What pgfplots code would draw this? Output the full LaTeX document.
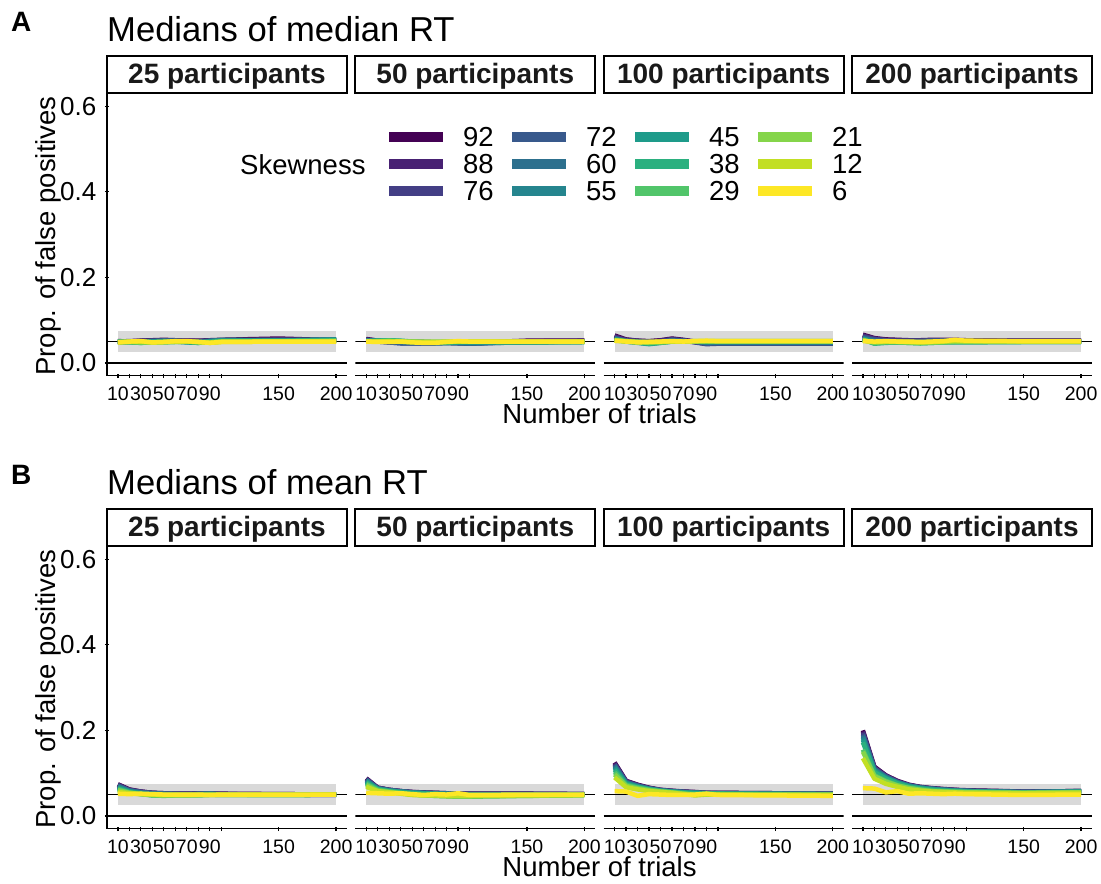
\documentclass[border=0pt]{standalone}
\usepackage{pgfplots}
\pgfplotsset{compat=1.18}
\usepackage{pgfplotstable}
\usepackage{fontspec}
\setmainfont{Liberation Sans}

\newcommand\fs[1]{\fontsize{#1}{#1}\selectfont}

% viridis palette, one colour per skewness level
\definecolor{v92}{HTML}{440154}
\definecolor{v88}{HTML}{482173}
\definecolor{v76}{HTML}{433E85}
\definecolor{v72}{HTML}{38598C}
\definecolor{v60}{HTML}{2D708E}
\definecolor{v55}{HTML}{25858E}
\definecolor{v45}{HTML}{1E9B8A}
\definecolor{v38}{HTML}{2BB07F}
\definecolor{v29}{HTML}{51C56A}
\definecolor{v21}{HTML}{85D54A}
\definecolor{v12}{HTML}{C2DF23}
\definecolor{v6}{HTML}{FDE725}
\definecolor{bandgrey}{HTML}{D9D9D9}

% Each table: one row per skewness level, one column per number of trials
% ---------- A: medians of median RT ----------
\pgfplotstableread{
s  10    20    30    40    50    60    70    80    90    100   150   200
92 0.051 0.050 0.052 0.053 0.054 0.053 0.052 0.052 0.053 0.054 0.057 0.053
88 0.050 0.051 0.052 0.052 0.053 0.053 0.052 0.051 0.052 0.053 0.055 0.053
76 0.050 0.050 0.051 0.052 0.052 0.052 0.051 0.051 0.052 0.053 0.054 0.053
72 0.049 0.050 0.051 0.051 0.052 0.052 0.051 0.050 0.052 0.053 0.053 0.054
60 0.050 0.049 0.050 0.051 0.052 0.051 0.050 0.049 0.051 0.054 0.053 0.055
55 0.049 0.049 0.050 0.050 0.051 0.051 0.049 0.048 0.051 0.053 0.052 0.055
45 0.048 0.049 0.049 0.050 0.050 0.050 0.048 0.047 0.050 0.052 0.052 0.054
38 0.049 0.048 0.047 0.049 0.049 0.050 0.049 0.047 0.049 0.051 0.051 0.053
29 0.050 0.049 0.047 0.048 0.048 0.049 0.050 0.048 0.048 0.050 0.051 0.052
21 0.049 0.050 0.048 0.048 0.049 0.049 0.050 0.049 0.048 0.050 0.050 0.051
12 0.048 0.049 0.050 0.048 0.049 0.050 0.050 0.049 0.047 0.049 0.050 0.050
6  0.048 0.050 0.051 0.048 0.049 0.051 0.051 0.049 0.047 0.049 0.050 0.050
}\rawAa
\pgfplotstableread{
s  10    20    30    40    50    60    70    80    90    100   150   200
92 0.056 0.052 0.051 0.050 0.049 0.049 0.048 0.048 0.048 0.047 0.052 0.052
88 0.055 0.052 0.050 0.049 0.048 0.048 0.047 0.047 0.047 0.046 0.051 0.052
76 0.054 0.050 0.048 0.046 0.046 0.046 0.046 0.047 0.046 0.045 0.050 0.051
72 0.053 0.050 0.048 0.046 0.046 0.046 0.046 0.047 0.046 0.045 0.049 0.050
60 0.052 0.051 0.050 0.048 0.047 0.047 0.047 0.047 0.047 0.046 0.048 0.050
55 0.052 0.052 0.052 0.050 0.048 0.048 0.047 0.047 0.047 0.047 0.048 0.049
45 0.051 0.052 0.053 0.051 0.049 0.048 0.047 0.047 0.048 0.048 0.048 0.049
38 0.051 0.052 0.053 0.052 0.050 0.049 0.048 0.048 0.049 0.049 0.049 0.049
29 0.050 0.051 0.052 0.051 0.050 0.049 0.049 0.049 0.050 0.050 0.049 0.049
21 0.050 0.050 0.051 0.050 0.050 0.049 0.049 0.049 0.050 0.050 0.049 0.049
12 0.050 0.050 0.050 0.050 0.049 0.049 0.049 0.050 0.050 0.050 0.050 0.050
6  0.050 0.049 0.049 0.050 0.048 0.047 0.047 0.049 0.051 0.050 0.050 0.050
}\rawAb
\pgfplotstableread{
s  10    20    30    40    50    60    70    80    90    100   150   200
92 0.064 0.055 0.052 0.051 0.053 0.057 0.054 0.050 0.046 0.046 0.046 0.046
88 0.062 0.054 0.052 0.050 0.052 0.056 0.053 0.049 0.045 0.046 0.046 0.046
76 0.060 0.053 0.051 0.050 0.051 0.055 0.052 0.048 0.044 0.045 0.046 0.046
72 0.058 0.052 0.050 0.049 0.050 0.054 0.052 0.049 0.045 0.046 0.046 0.046
60 0.057 0.051 0.049 0.047 0.049 0.052 0.051 0.050 0.047 0.047 0.047 0.047
55 0.056 0.050 0.048 0.045 0.048 0.051 0.051 0.050 0.048 0.048 0.048 0.048
45 0.055 0.050 0.047 0.044 0.047 0.050 0.050 0.050 0.049 0.049 0.049 0.049
38 0.054 0.050 0.048 0.045 0.047 0.050 0.050 0.050 0.050 0.050 0.050 0.050
29 0.053 0.050 0.049 0.047 0.048 0.050 0.050 0.050 0.050 0.050 0.050 0.050
21 0.053 0.051 0.049 0.048 0.049 0.050 0.050 0.051 0.051 0.051 0.051 0.051
12 0.052 0.051 0.049 0.049 0.049 0.050 0.050 0.051 0.051 0.051 0.051 0.051
6  0.052 0.050 0.048 0.049 0.050 0.051 0.050 0.051 0.052 0.051 0.051 0.051
}\rawAc
\pgfplotstableread{
s  10    20    30    40    50    60    70    80    90    100   150   200
92 0.066 0.058 0.055 0.054 0.053 0.053 0.054 0.054 0.054 0.053 0.052 0.052
88 0.064 0.057 0.054 0.053 0.053 0.053 0.053 0.053 0.053 0.052 0.052 0.052
76 0.062 0.056 0.053 0.052 0.052 0.052 0.053 0.053 0.053 0.052 0.051 0.051
72 0.060 0.054 0.052 0.051 0.051 0.051 0.052 0.052 0.052 0.051 0.051 0.051
60 0.058 0.052 0.050 0.050 0.050 0.049 0.050 0.051 0.051 0.050 0.050 0.050
55 0.057 0.050 0.049 0.049 0.049 0.048 0.049 0.050 0.050 0.050 0.050 0.050
45 0.056 0.047 0.048 0.048 0.048 0.047 0.048 0.049 0.049 0.049 0.049 0.049
38 0.055 0.045 0.047 0.048 0.047 0.046 0.047 0.048 0.048 0.048 0.049 0.049
29 0.054 0.046 0.048 0.048 0.047 0.046 0.047 0.048 0.049 0.049 0.049 0.049
21 0.053 0.048 0.049 0.049 0.048 0.047 0.048 0.049 0.050 0.050 0.050 0.050
12 0.052 0.049 0.050 0.050 0.049 0.048 0.049 0.050 0.052 0.051 0.050 0.050
6  0.051 0.050 0.051 0.050 0.050 0.049 0.050 0.051 0.054 0.052 0.051 0.051
}\rawAd
% ---------- B: medians of mean RT ----------
\pgfplotstableread{
s  10    20    30    40    50    60    70    80    90    100   150   200
92 0.074 0.062 0.057 0.054 0.053 0.052 0.052 0.053 0.052 0.052 0.051 0.050
88 0.073 0.061 0.057 0.054 0.053 0.052 0.052 0.052 0.052 0.051 0.051 0.050
76 0.072 0.060 0.056 0.054 0.052 0.052 0.051 0.052 0.053 0.051 0.050 0.049
72 0.071 0.060 0.056 0.053 0.052 0.051 0.051 0.052 0.053 0.051 0.050 0.049
60 0.069 0.059 0.055 0.053 0.052 0.051 0.051 0.051 0.052 0.050 0.050 0.050
55 0.068 0.058 0.054 0.052 0.051 0.051 0.050 0.051 0.051 0.050 0.050 0.050
45 0.066 0.057 0.053 0.050 0.049 0.050 0.050 0.050 0.051 0.050 0.049 0.050
38 0.064 0.056 0.052 0.048 0.048 0.049 0.049 0.049 0.050 0.049 0.049 0.050
29 0.062 0.055 0.051 0.048 0.047 0.048 0.048 0.048 0.049 0.049 0.049 0.050
21 0.060 0.054 0.051 0.049 0.048 0.048 0.048 0.049 0.049 0.049 0.049 0.050
12 0.056 0.053 0.051 0.050 0.049 0.049 0.049 0.049 0.049 0.049 0.049 0.050
6  0.052 0.051 0.052 0.051 0.050 0.050 0.050 0.050 0.049 0.050 0.050 0.050
}\rawBa
\pgfplotstableread{
s  10    20    30    40    50    60    70    80    90    100   150   200
92 0.088 0.066 0.061 0.058 0.056 0.055 0.054 0.053 0.052 0.052 0.052 0.051
88 0.087 0.066 0.061 0.058 0.056 0.054 0.054 0.053 0.052 0.052 0.052 0.051
76 0.086 0.065 0.061 0.058 0.055 0.054 0.053 0.053 0.052 0.051 0.051 0.051
72 0.085 0.065 0.060 0.057 0.055 0.054 0.053 0.052 0.051 0.051 0.051 0.051
60 0.083 0.064 0.060 0.057 0.055 0.054 0.053 0.052 0.051 0.051 0.051 0.050
55 0.082 0.064 0.059 0.057 0.055 0.053 0.052 0.052 0.051 0.050 0.050 0.050
45 0.080 0.063 0.059 0.056 0.054 0.053 0.052 0.051 0.050 0.050 0.050 0.050
38 0.078 0.062 0.058 0.055 0.053 0.052 0.051 0.050 0.049 0.048 0.049 0.050
29 0.075 0.061 0.057 0.054 0.050 0.049 0.047 0.046 0.045 0.045 0.047 0.049
21 0.072 0.059 0.056 0.053 0.050 0.048 0.047 0.046 0.046 0.046 0.047 0.048
12 0.068 0.058 0.055 0.052 0.049 0.048 0.048 0.047 0.047 0.047 0.048 0.049
6  0.054 0.053 0.052 0.053 0.051 0.049 0.051 0.050 0.053 0.049 0.050 0.050
}\rawBb
\pgfplotstableread{
s  10    20    30    40    50    60    70    80    90    100   150   200
92 0.125 0.082 0.073 0.066 0.061 0.059 0.057 0.056 0.054 0.054 0.053 0.052
88 0.123 0.081 0.072 0.065 0.061 0.058 0.057 0.055 0.054 0.054 0.053 0.052
76 0.121 0.080 0.071 0.065 0.060 0.058 0.056 0.055 0.054 0.053 0.052 0.052
72 0.119 0.079 0.071 0.064 0.060 0.058 0.056 0.055 0.053 0.053 0.052 0.051
60 0.117 0.078 0.070 0.064 0.060 0.057 0.056 0.054 0.053 0.053 0.052 0.051
55 0.114 0.077 0.069 0.063 0.059 0.057 0.055 0.054 0.053 0.052 0.052 0.051
45 0.111 0.076 0.068 0.063 0.059 0.057 0.055 0.054 0.053 0.052 0.051 0.051
38 0.107 0.074 0.067 0.062 0.058 0.056 0.054 0.053 0.052 0.052 0.051 0.050
29 0.102 0.072 0.066 0.061 0.058 0.055 0.053 0.050 0.052 0.051 0.050 0.050
21 0.097 0.070 0.064 0.060 0.057 0.055 0.052 0.049 0.051 0.050 0.050 0.049
12 0.090 0.067 0.062 0.058 0.056 0.054 0.051 0.048 0.050 0.050 0.049 0.049
6  0.058 0.057 0.047 0.051 0.050 0.049 0.049 0.050 0.052 0.049 0.048 0.047
}\rawBc
\pgfplotstableread{
s  10    20    30    40    50    60    70    80    90    100   150   200
92 0.200 0.115 0.095 0.082 0.073 0.068 0.065 0.063 0.061 0.060 0.057 0.058
88 0.197 0.113 0.094 0.081 0.072 0.067 0.064 0.062 0.061 0.059 0.057 0.058
76 0.194 0.112 0.093 0.080 0.072 0.067 0.064 0.062 0.060 0.059 0.056 0.058
72 0.190 0.110 0.092 0.079 0.071 0.067 0.064 0.062 0.060 0.059 0.056 0.058
60 0.187 0.109 0.091 0.079 0.071 0.066 0.063 0.061 0.060 0.058 0.056 0.057
55 0.183 0.107 0.090 0.078 0.070 0.066 0.063 0.061 0.059 0.058 0.055 0.057
45 0.178 0.105 0.088 0.077 0.069 0.065 0.062 0.060 0.059 0.058 0.055 0.057
38 0.172 0.102 0.087 0.076 0.068 0.064 0.061 0.059 0.058 0.057 0.055 0.056
29 0.155 0.095 0.082 0.072 0.066 0.062 0.059 0.058 0.057 0.056 0.054 0.056
21 0.150 0.093 0.080 0.071 0.065 0.061 0.058 0.057 0.056 0.055 0.054 0.055
12 0.135 0.087 0.075 0.068 0.062 0.059 0.057 0.056 0.055 0.054 0.053 0.054
6  0.065 0.064 0.055 0.058 0.052 0.053 0.052 0.051 0.052 0.051 0.049 0.050
}\rawBd

% turn each table round: column "colnames" holds the number of trials
\pgfplotstabletranspose[colnames from=s]\tAa\rawAa
\pgfplotstabletranspose[colnames from=s]\tAb\rawAb
\pgfplotstabletranspose[colnames from=s]\tAc\rawAc
\pgfplotstabletranspose[colnames from=s]\tAd\rawAd
\pgfplotstabletranspose[colnames from=s]\tBa\rawBa
\pgfplotstabletranspose[colnames from=s]\tBb\rawBb
\pgfplotstabletranspose[colnames from=s]\tBc\rawBc
\pgfplotstabletranspose[colnames from=s]\tBd\rawBd

\pgfplotsset{
  panel/.style={
    scale only axis, width=240pt, height=282.5pt, anchor=south west,
    xmin=0.5, xmax=209.5, ymin=-0.03, ymax=0.63,
    xtick={10,20,30,40,50,60,70,80,90,100,150,200},
    xticklabels={10,,30,,50,,70,,90,,150,200},
    tick align=outside, major tick length=4.5pt,
    tick style={line width=1.2pt, black},
    xticklabel style={font=\fs{19.5}, inner sep=0pt, anchor=base, yshift=-22pt},
  },
  firstpanel/.style={
    axis x line=bottom, axis y line=left,
    axis line style={line width=1.4pt, -},
    ytick={0,0.2,0.4,0.6},
    yticklabels={0.0,0.2,0.4,0.6},
    yticklabel style={font=\fs{26}, inner sep=0pt, anchor=east, xshift=-8.3pt},
    % left axis line of the facet row
    after end axis/.code={\draw[line width=1.4pt] (rel axis cs:0,0) -- (rel axis cs:0,1);},
  },
  otherpanel/.style={
    axis x line=bottom, axis y line=none,
    axis line style={line width=1.4pt, -},
  },
}

% one facet: band of acceptable rates, reference lines, one line per skewness
\newcommand{\facet}[4]{%
  \begin{axis}[panel, at={(#1,#2)}, #4]
    \addplot[draw=none, fill=bandgrey] coordinates {(10,0.025) (200,0.025) (200,0.075) (10,0.075)} -- cycle;
    \addplot[black, line width=1pt] coordinates {(0.5,0.05) (209.5,0.05)};
    \addplot[black, line width=1.4pt] coordinates {(0.5,0) (209.5,0)};
    \pgfplotsinvokeforeach{92,88,76,72,60,55,45,38,29,21,12,6}{%
      \addplot[v##1, line width=4.5pt, line join=round] table[x=colnames, y=##1] {#3};
    }
  \end{axis}%
}

\begin{document}
\begin{tikzpicture}[x=1pt, y=1pt]
\useasboundingbox (0,0) rectangle (1101,884);

% ---------------- row A ----------------
\facet{107pt}{508.2pt}{\tAa}{firstpanel}
\facet{355.3pt}{508.2pt}{\tAb}{otherpanel}
\facet{603.7pt}{508.2pt}{\tAc}{otherpanel}
\facet{852pt}{508.2pt}{\tAd}{otherpanel}
% ---------------- row B ----------------
\facet{107pt}{55.2pt}{\tBa}{firstpanel}
\facet{355.3pt}{55.2pt}{\tBb}{otherpanel}
\facet{603.7pt}{55.2pt}{\tBc}{otherpanel}
\facet{852pt}{55.2pt}{\tBd}{otherpanel}

% strips, titles and axis titles for both rows
\foreach \dy/\tag/\ttl in {0/A/Medians of median RT, -453/B/Medians of mean RT}{
  \foreach \xl/\n in {107/25, 355.3/50, 603.7/100, 852/200}{
    \draw[line width=1.8pt, fill=white] (\xl, 790.7+\dy) rectangle ++(240, 37.3);
    \node[anchor=base, inner sep=0pt, font=\fs{28}\bfseries, text=black!90]
      at (\xl+120, 800.5+\dy) {\n{} participants};
  }
  \node[anchor=base west, inner sep=0pt, font=\fs{28}\bfseries] at (11, 852+\dy) {\tag};
  \node[anchor=base west, inner sep=0pt, font=\fs{34.6}] at (107, 842.3+\dy) {\ttl};
  \node[anchor=base, inner sep=0pt, font=\fs{27.5}] at (599.5, 460.7+\dy) {Number of trials};
  \node[anchor=base, inner sep=0pt, font=\fs{27.5}, rotate=90] at (55, 648+\dy) {Prop. of false positives};
}

% legend of skewness levels
\node[anchor=base west, inner sep=0pt, font=\fs{27.5}] at (240, 709) {Skewness};
\foreach \c/\lab [count=\i from 0] in {v92/92, v88/88, v76/76, v72/72, v60/60, v55/55,
                                       v45/45, v38/38, v29/29, v21/21, v12/12, v6/6}{
  \pgfmathtruncatemacro\col{floor(\i/3)}
  \pgfmathtruncatemacro\row{mod(\i,3)}
  \pgfmathsetmacro\kx{389+123*\col}
  \pgfmathsetmacro\ky{747-27*\row}
  \draw[\c, line width=10pt] (\kx, \ky) -- ++(54, 0);
  \node[anchor=west, inner sep=0pt, font=\fs{27.5}] at (\kx+74, \ky) {\lab};
}
\end{tikzpicture}
\end{document}
